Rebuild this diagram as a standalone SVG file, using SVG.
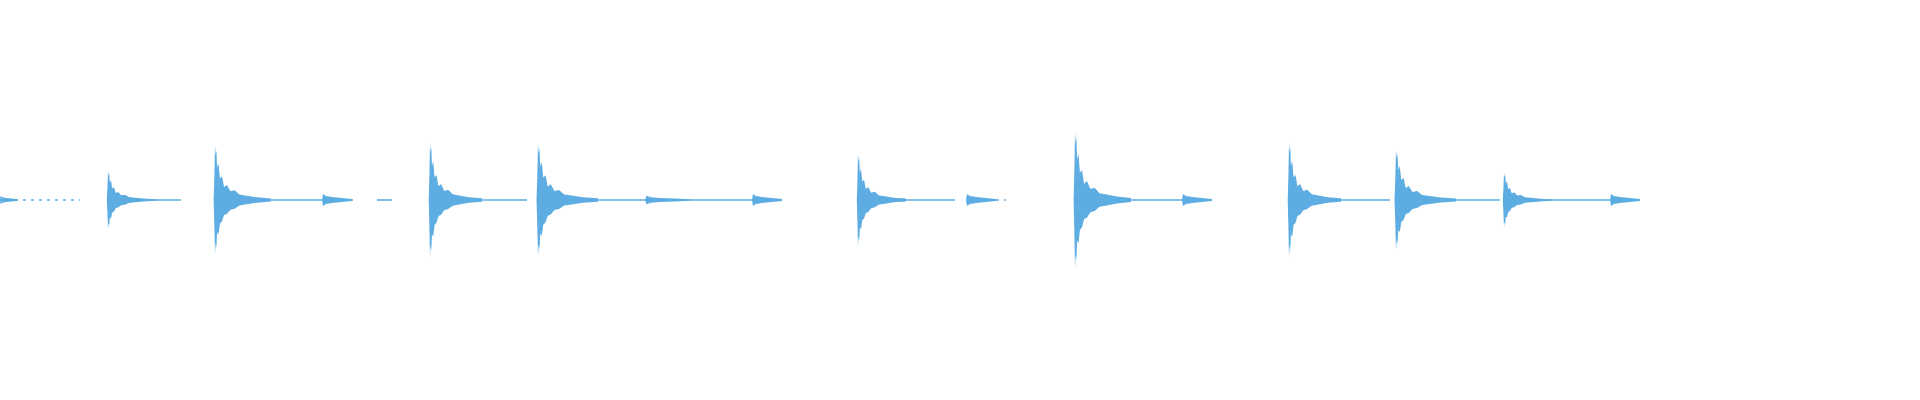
<svg xmlns="http://www.w3.org/2000/svg" width="1920" height="400" viewBox="0 0 1920 400">
<style>.w{fill:#5dade2}.t{stroke:#5dade2;stroke-width:1.6}.d{stroke:#5dade2;stroke-width:1.6;stroke-dasharray:3 5}</style>
<defs>
<polygon id="h" points="-2,0 -1,-20 0,-50 1,-42 2,-46 3,-30 5,-34 7,-20 10,-22 13,-12 17,-14 22,-8 28,-9 35,-5 45,-4 60,-2.5 80,-1.5 80,1.5 60,2.5 45,4 35,5 28,8 22,9 17,13 13,14 10,20 7,22 5,32 3,30 2,44 1,40 0,50 -1,22 -2,0"/>
<polygon id="b" points="0,0 1,-6 4,-4 10,-3 20,-2 30,-1 30,1 20,2 10,3 4,4 1,6"/>
</defs>
<rect width="1920" height="400" fill="#fff"/>
<g id="wave" class="w">
<use href="#b" transform="translate(0,200) scale(0.6,0.7)"/>
<line class="d" x1="15" y1="200" x2="80" y2="200"/>
<use href="#h" transform="translate(108,200) scale(0.6,0.58)"/><line class="t" x1="108" y1="200" x2="181" y2="200"/>
<use href="#h" transform="translate(215,200) scale(0.7,1.08)"/><line class="t" x1="215" y1="200" x2="353" y2="200"/><use href="#b" transform="translate(322,200)"/>
<line class="t" x1="377" y1="200" x2="392" y2="200"/>
<use href="#h" transform="translate(430,200) scale(0.65,1.14)"/><line class="t" x1="430" y1="200" x2="527" y2="200"/>
<use href="#h" transform="translate(538,200) scale(0.75,1.12)"/><line class="t" x1="538" y1="200" x2="771" y2="200"/><use href="#b" transform="translate(645,200) scale(1.5,0.7)"/><use href="#b" transform="translate(752,200)"/>
<use href="#h" transform="translate(858,200) scale(0.6,0.92)"/><line class="t" x1="858" y1="200" x2="955" y2="200"/><use href="#b" transform="translate(966,200)"/><line class="d" x1="996" y1="200" x2="1006" y2="200"/>
<use href="#h" transform="translate(1075,200) scale(0.7,1.36)"/><line class="t" x1="1075" y1="200" x2="1200" y2="200"/><use href="#b" transform="translate(1182,200)"/>
<use href="#h" transform="translate(1289,200) scale(0.65,1.14)"/><line class="t" x1="1289" y1="200" x2="1390" y2="200"/>
<use href="#h" transform="translate(1396,200) scale(0.75,1.0)"/><line class="t" x1="1396" y1="200" x2="1500" y2="200"/>
<use href="#h" transform="translate(1504,200) scale(0.6,0.55)"/><line class="t" x1="1504" y1="200" x2="1635" y2="200"/><use href="#b" transform="translate(1610,200)"/>
</g>
<g id="connectors"/>
</svg>
